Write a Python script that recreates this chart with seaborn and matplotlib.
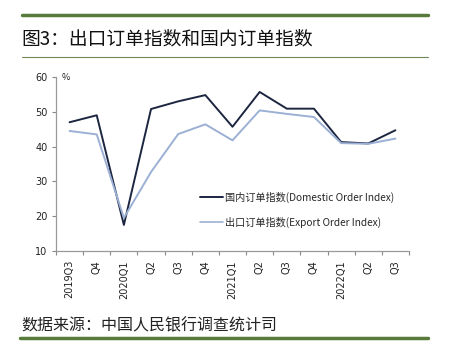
import matplotlib
matplotlib.use("Agg")
import matplotlib.pyplot as plt
import seaborn as sns
import pandas as pd
import numpy as np
from matplotlib.lines import Line2D

quarters = ["2019Q3", "Q4", "2020Q1", "Q2", "Q3", "Q4", "2021Q1", "Q2", "Q3", "Q4", "2022Q1", "Q2", "Q3"]
domestic = [47.0, 49.0, 17.5, 50.8, 53.0, 54.8, 45.7, 55.7, 50.9, 50.9, 41.3, 40.9, 44.7]
export = [44.5, 43.5, 19.5, 32.7, 43.6, 46.4, 41.8, 50.4, 49.4, 48.5, 41.0, 40.8, 42.3]
dom_label = "国内订单指数(Domestic Order Index)"
exp_label = "出口订单指数(Export Order Index)"
title = "图3：出口订单指数和国内订单指数"
source = "数据来源：中国人民银行调查统计司"

sns.set_theme(style="white")
plt.rcParams['font.family'] = ['Noto Sans CJK SC', 'DejaVu Sans']

df = pd.DataFrame({
    "pos": list(range(len(quarters))) * 2,
    "value": domestic + export,
    "series": [dom_label] * len(quarters) + [exp_label] * len(quarters),
})

W, H = 449, 342
fig = plt.figure(figsize=(W / 100, H / 100), dpi=100)
ax = fig.add_axes([56 / W, 1 - 251 / H, (409 - 56) / W, (251 - 77) / H])

dom_c = "#1c2640"
exp_c = "#9bb0d4"
sns.lineplot(data=df, x="pos", y="value", hue="series", ax=ax,
             palette={dom_label: dom_c, exp_label: exp_c}, linewidth=1.4, legend=False)

ax.set_xlim(-0.5, len(quarters) - 0.5)
ax.set_ylim(10, 60)
ax.set_yticks([10, 20, 30, 40, 50, 60])
ax.set_xticks(np.arange(-0.5, len(quarters), 1.0))
ax.set_xticklabels([])
ax.set_xticks(np.arange(len(quarters)), minor=True)
ax.set_xticklabels(quarters, minor=True, rotation=90, fontsize=7, family="DejaVu Sans")
ax.tick_params(axis="x", which="major", length=3, width=0.8, color="#888888", direction="out", bottom=True)
ax.tick_params(axis="x", which="minor", length=0, pad=6.5, labelcolor="#222222")
ax.tick_params(axis="y", length=3, width=0.8, color="#888888", direction="out", left=True, labelsize=7, pad=3, labelcolor="#222222")
for lab in ax.get_yticklabels():
    lab.set_family("DejaVu Sans")
ax.set_xlabel("")
ax.set_ylabel("")
for s in ["top", "right"]:
    ax.spines[s].set_visible(False)
for s in ["left", "bottom"]:
    ax.spines[s].set_color("#999999")
    ax.spines[s].set_linewidth(0.9)

ax.text(0.015, 60, "%", transform=ax.get_yaxis_transform(), fontsize=6.5, va="center", ha="left", color="#222222")

handles = [Line2D([], [], color=dom_c, lw=1.4), Line2D([], [], color=exp_c, lw=1.2)]
fig.legend(handles, [dom_label, exp_label], loc="upper left", bbox_to_anchor=(200 / W, 1 - 192 / H),
           frameon=False, fontsize=7.3, handlelength=2.3, handletextpad=0.15, labelspacing=1.35, borderaxespad=0,
           borderpad=0)

green = "#587a3a"
fig.add_artist(Line2D([22 / W, 428 / W], [1 - 15 / H, 1 - 15 / H], color=green, lw=2.5))
fig.add_artist(Line2D([22 / W, 428 / W], [1 - 57 / H, 1 - 57 / H], color="#6f8a56", lw=0.8))
fig.add_artist(Line2D([20 / W, 428 / W], [1 - 338 / H, 1 - 338 / H], color=green, lw=2.5))
fig.text(21 / W, 1 - 39 / H, title, fontsize=13.5, va="center", ha="left", color="#111111")
fig.text(21 / W, 1 - 326 / H, source, fontsize=11.5, va="center", ha="left", color="#222222")

fig.savefig("out.png", dpi=100, facecolor="white")
